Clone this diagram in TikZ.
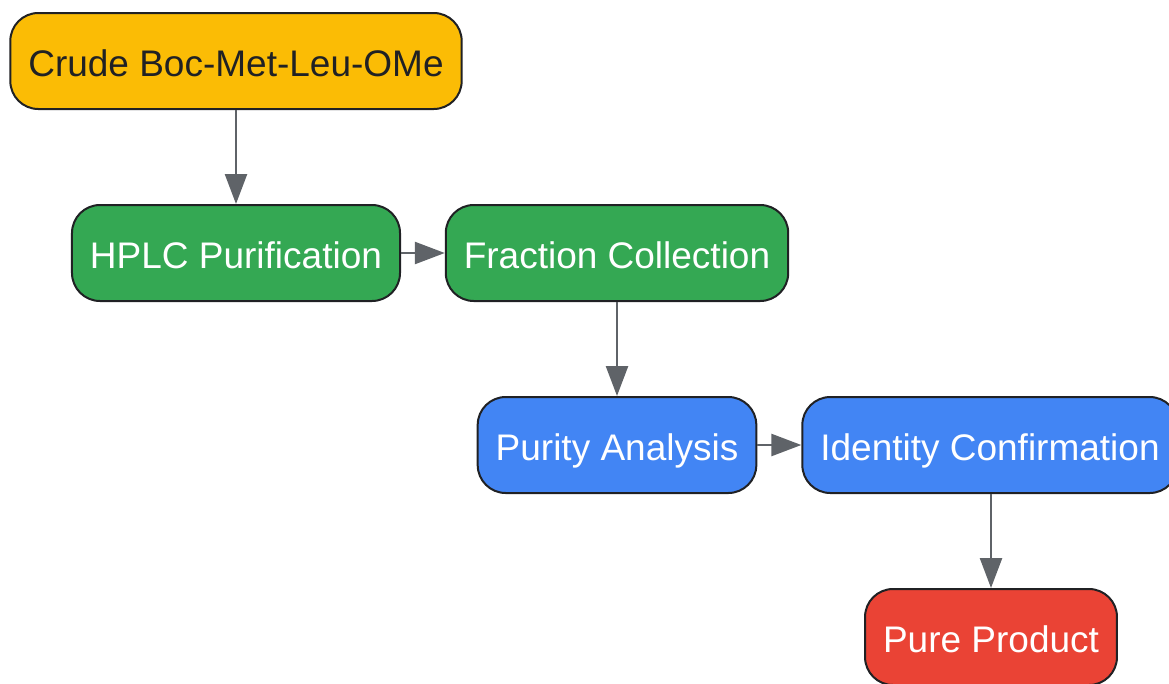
\documentclass[tikz,border=0pt]{standalone}
\usepackage{fontspec}
\setmainfont{Liberation Sans}
\usepackage{tikz}
\usepackage{xcolor}
\usetikzlibrary{shapes.geometric, positioning, arrows.meta}
\definecolor{gyellow}{HTML}{FBBC05}
\definecolor{ggreen}{HTML}{34A853}
\definecolor{gblue}{HTML}{4285F4}
\definecolor{gred}{HTML}{EA4335}
\definecolor{gline}{HTML}{5F6368}
\definecolor{gdark}{HTML}{202124}
\tikzset{stage/.style={rectangle,rounded corners=28pt,draw=gdark,line width=2pt,minimum height=96pt,inner xsep=18pt,text height=30pt,text depth=0pt,text=white,font=\fontsize{37}{44}\selectfont},
  flow/.style={gline,line width=2.5pt,-{Triangle[length=30pt,width=22pt]}}}

\begin{document}
\begin{tikzpicture}[x=1pt,y=-1pt]
      \useasboundingbox (0,0) rectangle (1169,683);
      \node[stage,fill=gyellow,text=gdark] (crude) at (236,61) {Crude Boc-Met-Leu-OMe};
      \node[stage,fill=ggreen] (hplc) at (236,253) {HPLC Purification};
      \node[stage,fill=ggreen] (frac) at (617,253) {Fraction Collection};
      \node[stage,fill=gblue] (purity) at (617,445) {Purity Analysis};
      \node[stage,fill=gblue] (ident) at (990,445) {Identity Confirmation};
      \node[stage,fill=gred] (pure) at (991,637) {Pure Product};

      \draw[flow] (crude) -- (hplc);
      \draw[flow] (hplc) -- (frac);
      \draw[flow] (frac) -- (purity);
      \draw[flow] (purity) -- (ident);
      \draw[flow] (ident.south -| pure) -- (pure);
  \end{tikzpicture}
\end{document}
